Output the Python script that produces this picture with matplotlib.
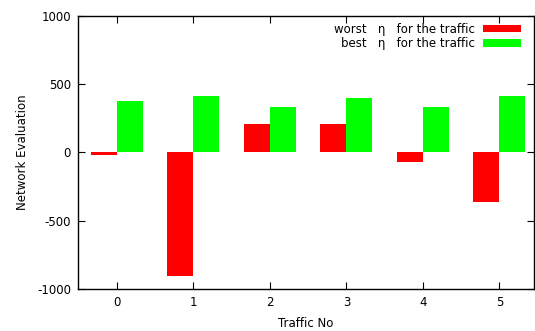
import matplotlib
matplotlib.use("Agg")
import matplotlib.pyplot as plt
import numpy as np

traffic = [0, 1, 2, 3, 4, 5]
worst_eta = [-16, -902, 209, 211, -67, -360]
best_eta = [375, 412, 331, 402, 336, 414]

plt.rcParams["font.family"] = "DejaVu Sans"
plt.rcParams["font.size"] = 8.5
plt.rcParams["axes.unicode_minus"] = False

fig = plt.figure(figsize=(5.35, 3.31), dpi=100)
ax = fig.add_axes([0.1458, 0.1269, 0.852, 0.8248])

x = np.array(traffic, dtype=float)
w = 0.34
ax.bar(x - w / 2, worst_eta, width=w, color="#ff0000", linewidth=0,
       label="worst   \u03b7   for the traffic")
ax.bar(x + w / 2, best_eta, width=w, color="#00ff00", linewidth=0,
       label="best   \u03b7   for the traffic")

ax.set_xlim(-0.51, 5.45)
ax.set_ylim(-1000, 1000)
ax.set_xticks(traffic)
ax.set_yticks([-1000, -500, 0, 500, 1000])
ax.tick_params(direction="in", length=5, width=0.8, top=True, right=True,
               labelsize=8.5, pad=5)
for s in ax.spines.values():
    s.set_linewidth(1.0)

ax.set_xlabel("Traffic No", fontsize=8.5, labelpad=6)
ax.set_ylabel("Network Evaluation", fontsize=8.5, labelpad=6)

ax.legend(loc="upper right", bbox_to_anchor=(0.99, 1.005), frameon=False,
          markerfirst=False, handlelength=3.2, handleheight=0.6,
          handletextpad=0.7, labelspacing=0.12, borderaxespad=0.3,
          fontsize=8.5)

fig.savefig("out.png", dpi=100)
